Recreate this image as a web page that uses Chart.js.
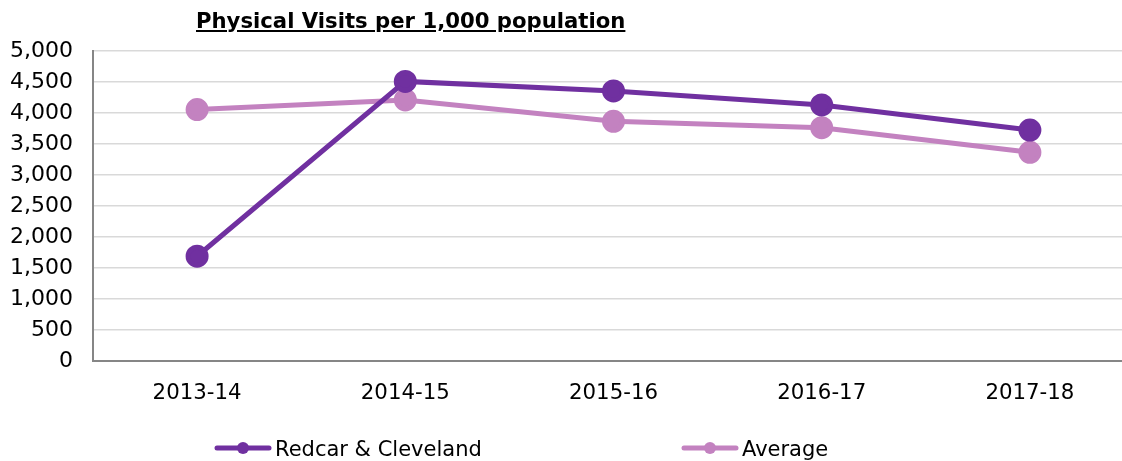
<!DOCTYPE html>
<html>
<head>
<meta charset="utf-8">
<script src="https://cdn.jsdelivr.net/npm/chart.js@4/dist/chart.umd.min.js"></script>
<style>
  html, body { margin:0; padding:0; background:#fff; overflow:hidden; }
  #wrap { position:relative; width:1148px; height:461px; }
  #title {
    position:absolute; left:196px; top:8px;
    font-family:"DejaVu Sans", Verdana, sans-serif; font-weight:bold; font-size:21.2px;
    text-decoration:underline; color:#000; white-space:nowrap;
  }
</style>
</head>
<body>
<div id="wrap">
  <canvas id="chart" width="1148" height="461"></canvas>
  <div id="title">Physical Visits per 1,000 population</div>
</div>
<script>
/* ── DATA ─────────────────────────────────────────────── */
const years   = ['2013-14', '2014-15', '2015-16', '2016-17', '2017-18'];
const redcar  = [1690, 4510, 4355, 4130, 3725];
const average = [4055, 4210, 3866, 3763, 3366];
const yTicks  = [0, 500, 1000, 1500, 2000, 2500, 3000, 3500, 4000, 4500, 5000];

const PURPLE = '#7030a0';
const LILAC  = '#c382c0';
const FONT   = '"DejaVu Sans", Verdana, sans-serif';

function lineSet(label, data, color) {
  return {
    label, data,
    borderColor: color, backgroundColor: color,
    pointBackgroundColor: color, pointBorderColor: color,
    borderWidth: 5, pointRadius: 9, pointHoverRadius: 9,
    tension: 0, fill: false,
  };
}

/* custom legend: line + dot, label to the right */
const legendPlugin = {
  id: 'lineLegend',
  afterDraw(chart) {
    const ctx = chart.ctx;
    const slots = [215, 682];
    const y = 448;
    chart.data.datasets.forEach((ds, i) => {
      const x = slots[i];
      ctx.save();
      ctx.strokeStyle = ds.borderColor;
      ctx.lineWidth = 5;
      ctx.lineCap = 'round';
      ctx.beginPath(); ctx.moveTo(x + 2, y); ctx.lineTo(x + 54, y); ctx.stroke();
      ctx.fillStyle = ds.borderColor;
      ctx.beginPath(); ctx.arc(x + 28, y, 6, 0, Math.PI * 2); ctx.fill();
      ctx.fillStyle = '#000';
      ctx.font = '21px "DejaVu Sans", sans-serif';
      ctx.textBaseline = 'alphabetic';
      ctx.fillText(ds.label, x + 60, 456);
      ctx.restore();
    });
  }
};

new Chart(document.getElementById('chart'), {
  type: 'line',
  data: {
    labels: years,
    datasets: [
      lineSet('Redcar & Cleveland', redcar, PURPLE),
      lineSet('Average', average, LILAC),
    ],
  },
  options: {
    responsive: false, animation: false,
    layout: { padding: { top: 51, right: 0, bottom: 0, left: 0 } },
    plugins: { legend: { display: false }, tooltip: { enabled: false } },
    scales: {
      x: {
        offset: true,
        grid: { display: false, drawTicks: false },
        border: { display: true, color: '#868686', width: 2 },
        ticks: { color: '#000', padding: 20, font: { family: FONT, size: 21.3 } },
        afterFit: s => { s.height = 100; },
      },
      y: {
        min: 0, max: 5000,
        afterBuildTicks: s => { s.ticks = yTicks.map(v => ({ value: v })); },
        grid: { color: '#d9d9d9', lineWidth: 1.5, drawTicks: false },
        border: { display: true, color: '#868686', width: 2 },
        ticks: {
          color: '#000', padding: 20, font: { family: FONT, size: 22 },
          callback: v => v.toLocaleString('en-GB'),
        },
        afterFit: s => { s.width = 93; },
      },
    },
  },
  plugins: [legendPlugin],
});
</script>
</body>
</html>
